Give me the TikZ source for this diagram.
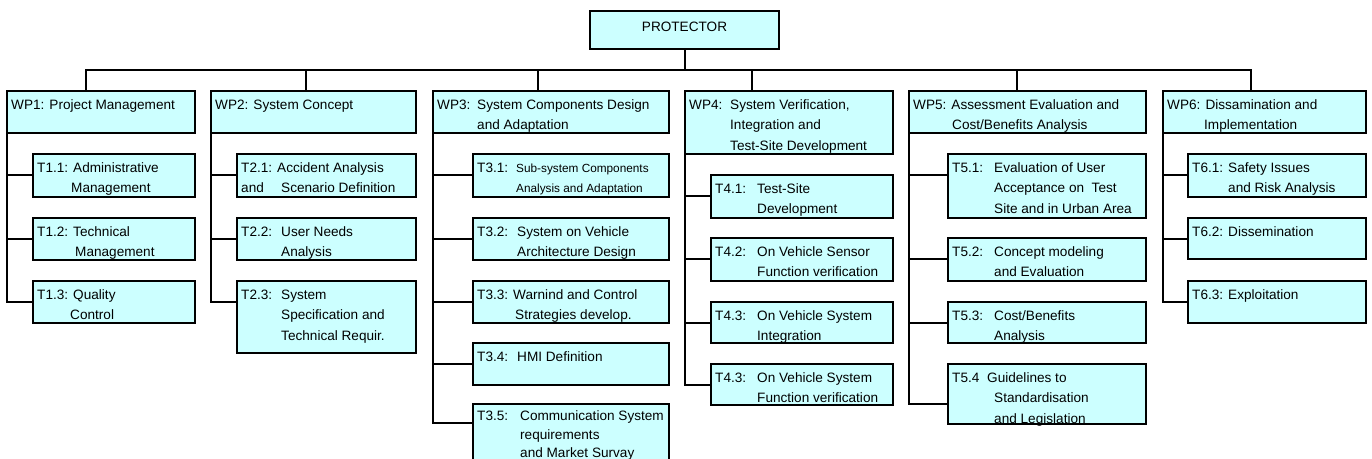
\documentclass[tikz,border=0pt]{standalone}
\usepackage{fontspec}
\setmainfont{Liberation Sans}
\definecolor{boxfill}{HTML}{CCFFFF}
\tikzset{
  bx/.style={draw=black, line width=2pt, fill=boxfill, rectangle, inner sep=0pt, outer sep=0pt, anchor=north west},
  txt/.style={anchor=north west, inner sep=0pt, align=left, font=\fontsize{13.6}{20.5}\selectfont},
  link/.style={draw=black, line width=2pt},
}
\newcommand\mybox[6]{%
  \node[bx, minimum width={(#4-#2)*1pt}, minimum height={(#5-#3)*1pt}] (#1) at (#2,#3) {};
  \node[txt] (#1-t) at ({#2+4},{#3+7}) {\rule{0pt}{11pt}#6};
}
\newcommand\smallf{\fontsize{11.8}{20.5}\selectfont}
\begin{document}
\begin{tikzpicture}[x=1pt,y=-1pt]
\clip (0,0) rectangle (1372,458);
\fill[white] (0,0) rectangle (1372,458);
% root
\node[bx, minimum width=189pt, minimum height=38pt] (P) at (590,11) {};
\node[txt, anchor=base] (P-t) at (684.5,31) {PROTECTOR};
% work packages
\mybox{wp1}{7}{91}{195}{133}{WP1: Project Management}
\mybox{wp2}{211}{91}{416}{133}{WP2: System Concept}
\mybox{wp3}{433}{91}{669}{133}{\makebox[40pt][l]{WP3:}System Components Design\\\hspace*{40pt}and Adaptation}
\mybox{wp4}{685}{91}{893}{154}{\makebox[41pt][l]{WP4:}System Verification,\\\hspace*{41pt}Integration and\\\hspace*{41pt}Test-Site Development}
\mybox{wp5}{909}{91}{1146}{133}{WP5: Assessment Evaluation and\\\hspace*{39pt}Cost/Benefits Analysis}
\mybox{wp6}{1163}{91}{1366}{133}{WP6: Dissamination and\\\hspace*{37pt}Implementation}
% tasks WP1
\mybox{t11}{33}{154}{195}{197}{T1.1: Administrative\\\hspace*{34pt}Management}
\mybox{t12}{33}{218}{195}{260}{T1.2: Technical\\\hspace*{38pt}Management}
\mybox{t13}{33}{281}{195}{323}{T1.3: Quality\\\hspace*{33pt}Control}
% tasks WP2
\mybox{t21}{237}{154}{416}{197}{T2.1: Accident Analysis\\\makebox[40pt][l]{and}Scenario Definition}
\mybox{t22}{237}{218}{416}{260}{\makebox[40pt][l]{T2.2:}User Needs\\\hspace*{40pt}Analysis}
\mybox{t23}{237}{281}{416}{353}{\makebox[40pt][l]{T2.3:}System\\\hspace*{40pt}Specification and\\\hspace*{40pt}Technical Requir.}
% tasks WP3
\mybox{t31}{473}{154}{669}{197}{\makebox[39pt][l]{T3.1:}{\smallf Sub-system Components}\\\hspace*{39pt}{\smallf Analysis and Adaptation}}
\mybox{t32}{473}{218}{669}{260}{\makebox[40pt][l]{T3.2:}System on Vehicle\\\hspace*{40pt}Architecture Design}
\mybox{t33}{473}{281}{669}{323}{T3.3: Warnind and Control\\\hspace*{38pt}Strategies develop.}
\mybox{t34}{473}{343}{669}{385}{\makebox[40pt][l]{T3.4:}HMI Definition}
\node[bx, minimum width=196pt, minimum height=68pt] (t35) at (473,404) {};
\node[txt, font=\fontsize{13.6}{18.8}\selectfont] (t35-t) at (477,410) {\rule{0pt}{10pt}\makebox[43pt][l]{T3.5:}Communication System\\\hspace*{43pt}requirements\\\hspace*{43pt}and Market Survay};
% tasks WP4
\mybox{t41}{711}{175}{893}{218}{\makebox[42pt][l]{T4.1:}Test-Site\\\hspace*{42pt}Development}
\mybox{t42}{711}{238}{893}{281}{\makebox[42pt][l]{T4.2:}On Vehicle Sensor\\\hspace*{42pt}Function verification}
\mybox{t43}{711}{302}{893}{343}{\makebox[42pt][l]{T4.3:}On Vehicle System\\\hspace*{42pt}Integration}
\mybox{t44}{711}{364}{893}{405}{\makebox[42pt][l]{T4.3:}On Vehicle System\\\hspace*{42pt}Function verification}
% tasks WP5
\mybox{t51}{948}{154}{1146}{218}{\makebox[42pt][l]{T5.1:}Evaluation of User\\\hspace*{42pt}Acceptance on\ \ Test\\\hspace*{42pt}Site and in Urban Area}
\mybox{t52}{948}{238}{1146}{281}{\makebox[42pt][l]{T5.2:}Concept modeling\\\hspace*{42pt}and Evaluation}
\mybox{t53}{948}{302}{1146}{343}{\makebox[42pt][l]{T5.3:}Cost/Benefits\\\hspace*{42pt}Analysis}
\mybox{t54}{948}{364}{1146}{424}{\makebox[35pt][l]{T5.4}Guidelines to\\\hspace*{42pt}Standardisation\\\hspace*{42pt}and Legislation}
% tasks WP6
\mybox{t61}{1188}{154}{1366}{197}{T6.1: Safety Issues\\\hspace*{36pt}and Risk Analysis}
\mybox{t62}{1188}{218}{1366}{259}{T6.2: Dissemination}
\mybox{t63}{1188}{281}{1366}{323}{T6.3: Exploitation}
% root to work packages
\draw[link] (P.south) -- ++(0,21) -| ([xshift=79pt]wp1.north west);
\draw[link] (P.south) -- ++(0,21) -| ([xshift=95pt]wp2.north west);
\draw[link] (P.south) -- ++(0,21) -| ([xshift=105pt]wp3.north west);
\draw[link] (P.south) -- ++(0,21) -| ([xshift=67pt]wp4.north west);
\draw[link] (P.south) -- ++(0,21) -| ([xshift=108pt]wp5.north west);
\draw[link] (P.south) -- ++(0,21) -| ([xshift=88pt]wp6.north west);
% work packages to tasks
\foreach \w/\t in {wp1/t11,wp1/t12,wp1/t13,wp2/t21,wp2/t22,wp2/t23,
  wp3/t31,wp3/t32,wp3/t33,wp3/t34,wp4/t41,wp4/t42,wp4/t43,wp4/t44,
  wp5/t51,wp5/t52,wp5/t53,wp6/t61,wp6/t62,wp6/t63}
  \draw[link] (\w.south west) |- ([yshift=-21pt]\t.north west);
\draw[link] (wp3.south west) |- ([yshift=-19pt]t35.north west);
\draw[link] (wp5.south west) |- ([yshift=-40pt]t54.north west);
\end{tikzpicture}
\end{document}
